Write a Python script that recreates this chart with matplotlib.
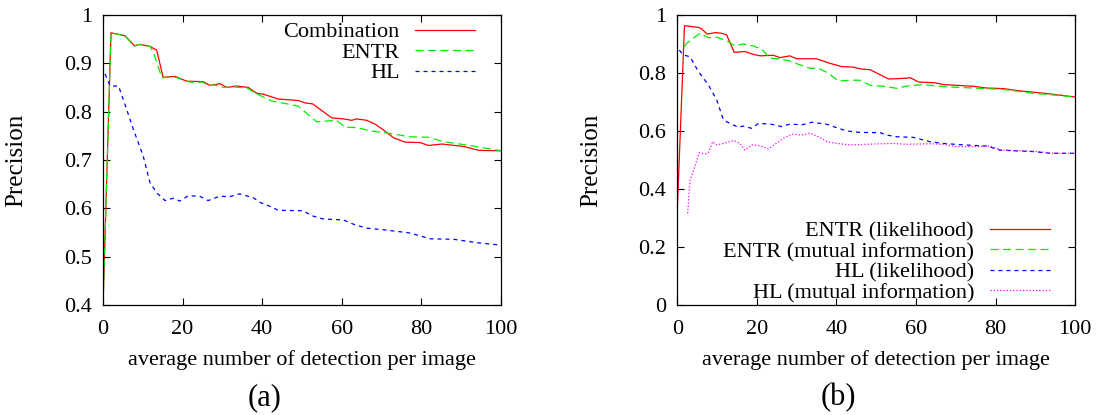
import matplotlib
matplotlib.use("Agg")
import matplotlib.pyplot as plt
from matplotlib.ticker import FuncFormatter

plt.rcParams['font.family'] = ['Liberation Serif', 'DejaVu Serif']
plt.rcParams['font.size'] = 16

# ---- panel (a) data ----
a_comb_x = [0, 2, 5.5, 7.9, 9.3, 11.8, 13.5, 15.1, 18.1, 21, 25.2, 26.9, 29.4, 31.1, 33.6, 36.5,
            38.6, 40.3, 44.1, 49.1, 50.8, 52.7, 57.5, 60.4, 62.5, 63.7, 66.3, 68.4, 70.5, 73,
            75.9, 79.7, 81.8, 85.2, 90.6, 94.4, 100]
a_comb_y = [0.4, 0.963, 0.957, 0.936, 0.939, 0.935, 0.927, 0.871, 0.873, 0.863, 0.862, 0.854,
            0.858, 0.850, 0.853, 0.850, 0.838, 0.836, 0.826, 0.823, 0.818, 0.816, 0.787, 0.785,
            0.782, 0.785, 0.782, 0.774, 0.762, 0.746, 0.737, 0.736, 0.730, 0.733, 0.728, 0.720,
            0.719]

a_entr_x = [0, 2, 5.5, 7.9, 9.3, 11.8, 12.6, 14.8, 17.8, 22, 25.2, 26.1, 28.2, 30.3, 32.8, 36.2,
            38.3, 42.4, 47, 49.1, 53.7, 58.7, 60.8, 63.7, 67.5, 72, 77.1, 81.8, 85.5, 92.2, 100]
a_entr_y = [0.4, 0.963, 0.957, 0.936, 0.939, 0.935, 0.924, 0.870, 0.872, 0.861, 0.861, 0.854,
            0.855, 0.850, 0.851, 0.849, 0.838, 0.822, 0.815, 0.811, 0.779, 0.782, 0.768, 0.767,
            0.760, 0.755, 0.748, 0.747, 0.738, 0.730, 0.719]

a_hl_x = [0.5, 1.8, 3.9, 5.1, 7.6, 10.1, 11.8, 13.5, 15.6, 17.7, 19.3, 21.4, 24.3, 26.4, 29.3,
          31.8, 34.3, 37.7, 39.8, 42.3, 44, 50.3, 52.4, 55.3, 60.4, 63.3, 66.3, 71.3, 77.1, 79.7,
          82.2, 88.1, 93.9, 100]
a_hl_y = [0.878, 0.853, 0.853, 0.825, 0.764, 0.708, 0.653, 0.632, 0.616, 0.621, 0.615, 0.626,
          0.625, 0.616, 0.625, 0.624, 0.630, 0.622, 0.611, 0.603, 0.596, 0.595, 0.585, 0.578,
          0.576, 0.566, 0.559, 0.555, 0.549, 0.543, 0.537, 0.536, 0.529, 0.524]

# ---- panel (b) data ----
b_entr_lik_x = [0, 1.8, 5.3, 6.1, 7.5, 9.5, 11.1, 12.4, 14.3, 17, 19.1, 20.8, 24.1, 25.8, 28.3,
                30, 35, 36.7, 38.4, 41.3, 44.3, 45.9, 48.5, 53.1, 57.7, 58.5, 60.6, 64.8, 66.9,
                74.4, 77.8, 82, 86.2, 92.9, 100]
b_entr_lik_y = [0.333, 0.963, 0.957, 0.952, 0.934, 0.939, 0.937, 0.931, 0.871, 0.874, 0.864,
                0.859, 0.861, 0.853, 0.859, 0.849, 0.849, 0.841, 0.833, 0.822, 0.820, 0.814,
                0.811, 0.779, 0.782, 0.784, 0.769, 0.766, 0.760, 0.754, 0.748, 0.746, 0.738,
                0.729, 0.717]

b_entr_mi_x = [1.8, 2.3, 5.7, 7.8, 9.9, 12.4, 14.5, 16.6, 19.1, 21.2, 23.3, 25.8, 28.3, 30.8,
               33.4, 35.5, 38, 40.5, 43.4, 45.9, 48.5, 51.8, 55.2, 57.7, 61.9, 65.2, 69.4, 74.4,
               82, 88.7, 94.6, 100]
b_entr_mi_y = [0.890, 0.902, 0.937, 0.922, 0.923, 0.911, 0.893, 0.900, 0.893, 0.882, 0.851,
               0.848, 0.841, 0.828, 0.816, 0.816, 0.799, 0.772, 0.775, 0.775, 0.757, 0.754,
               0.747, 0.755, 0.760, 0.755, 0.751, 0.748, 0.743, 0.731, 0.724, 0.717]

b_hl_lik_x = [0.5, 1.5, 3.2, 5.3, 7.8, 9.9, 11.6, 13.2, 15.3, 16.6, 18.7, 20.4, 23.3, 26.2, 28.3,
              31.3, 33.8, 37.6, 40.1, 42.6, 45.9, 51, 52.6, 55.2, 59.3, 63.5, 66.9, 71.9, 77.8,
              81.1, 84.5, 89.5, 93.7, 100]
b_hl_lik_y = [0.879, 0.862, 0.856, 0.805, 0.759, 0.707, 0.638, 0.626, 0.613, 0.617, 0.609,
              0.626, 0.624, 0.615, 0.624, 0.621, 0.630, 0.623, 0.611, 0.600, 0.595, 0.594,
              0.586, 0.580, 0.578, 0.563, 0.557, 0.552, 0.548, 0.534, 0.532, 0.529, 0.523,
              0.523]

b_hl_mi_x = [2.6, 3.2, 4.4, 5.5, 7, 7.8, 8.9, 9.9, 11.6, 14.1, 15.8, 17, 18.7, 20.8, 22.9, 24.6,
             26.7, 28.8, 31.3, 33.4, 35.5, 37.6, 40.1, 43.4, 49.3, 54.3, 57.7, 63.5, 66.9, 70.2,
             75.3, 78.6, 81.6, 85.3, 90.4, 94.6, 100]
b_hl_mi_y = [0.316, 0.431, 0.477, 0.525, 0.521, 0.525, 0.563, 0.552, 0.557, 0.567, 0.557, 0.534,
             0.552, 0.549, 0.538, 0.555, 0.575, 0.589, 0.586, 0.592, 0.580, 0.563, 0.557, 0.552,
             0.555, 0.557, 0.554, 0.556, 0.554, 0.546, 0.546, 0.548, 0.534, 0.532, 0.529, 0.523,
             0.523]

a_yticks = [0.4, 0.5, 0.6, 0.7, 0.8, 0.9, 1.0]
b_yticks = [0, 0.2, 0.4, 0.6, 0.8, 1.0]
xticks = [0, 20, 40, 60, 80, 100]

lw = 0.9
red = dict(color='#ff0000', lw=lw)
green = dict(color='#00ee00', lw=lw, dashes=(6.5, 3.5))
blue = dict(color='#0000ff', lw=lw, dashes=(3.2, 3.2))
magenta = dict(color='#ff00ff', lw=lw, dashes=(1.0, 1.6))

fig = plt.figure(figsize=(10.96, 4.15), dpi=100)
ax1 = fig.add_axes([0.094, 0.265, 0.363, 0.699])
ax2 = fig.add_axes([0.618, 0.265, 0.363, 0.699])

ax1.plot(a_comb_x, a_comb_y, label='Combination', **red)
ax1.plot(a_entr_x, a_entr_y, label='ENTR', **green)
ax1.plot(a_hl_x, a_hl_y, label='HL', **blue)
ax1.set_ylim(0.4, 1)
ax1.set_yticks(a_yticks)

ax2.plot(b_entr_lik_x, b_entr_lik_y, label='ENTR (likelihood)', **red)
ax2.plot(b_entr_mi_x, b_entr_mi_y, label='ENTR (mutual information)', **green)
ax2.plot(b_hl_lik_x, b_hl_lik_y, label='HL (likelihood)', **blue)
ax2.plot(b_hl_mi_x, b_hl_mi_y, label='HL (mutual information)', **magenta)
ax2.set_ylim(0, 1)
ax2.set_yticks(b_yticks)

fmt = FuncFormatter(lambda v, p: f'{v:g}')
for ax, tag in [(ax1, '(a)'), (ax2, '(b)')]:
    ax.set_xlim(0, 100)
    ax.set_xticks(xticks)
    ax.yaxis.set_major_formatter(fmt)
    ax.tick_params(direction='in', top=True, right=True, length=5, width=0.8)
    ax.tick_params(axis='x', pad=11)
    ax.tick_params(axis='y', pad=8)
    for s in ax.spines.values():
        s.set_linewidth(0.9)
    ax.set_xlabel('average number of detection per image')
    ax.xaxis.set_label_coords(0.5, -0.155)
    ax.set_ylabel('Precision', fontsize=18)
    ax.yaxis.set_label_coords(-0.19, 0.5)
    ax.text(0.405, -0.32, tag, transform=ax.transAxes, fontsize=22,
            ha='center', va='center')

ax1.legend(loc='upper right', bbox_to_anchor=(0.975, 1.03), frameon=False,
           markerfirst=False, handlelength=2.7, handletextpad=0.7, labelspacing=0.0,
           borderaxespad=0.3)
ax2.legend(loc='lower right', bbox_to_anchor=(0.975, -0.047), frameon=False,
           markerfirst=False, handlelength=2.7, handletextpad=0.7, labelspacing=0.0,
           borderaxespad=0.3)

fig.savefig('out.png', dpi=100)
